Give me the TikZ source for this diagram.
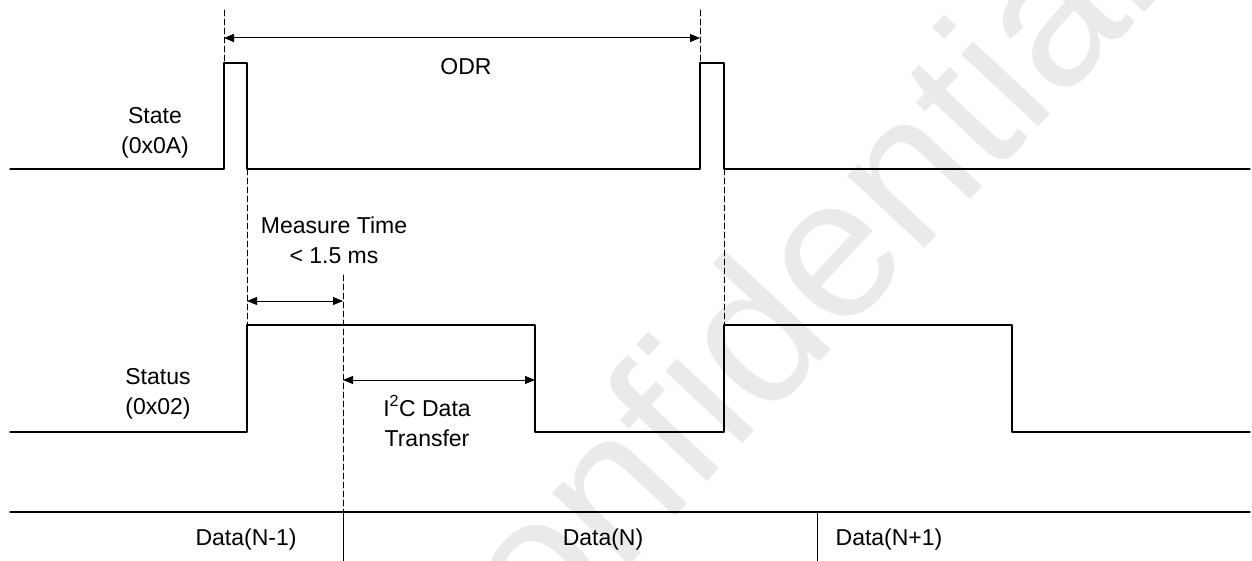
\documentclass[tikz,border=0pt]{standalone}
\usepackage{fontspec}
\setmainfont{Liberation Sans}
\usepackage{tikz}
\usetikzlibrary{arrows.meta}

\definecolor{wmgray}{RGB}{234,234,234}

\begin{document}
\begin{tikzpicture}[line cap=round,line join=round,>={Triangle[length=10pt,width=8pt]},x=1pt,y=-1pt, line width=1.2pt,
        lbl/.style={align=center, inner sep=0pt, font=\fontsize{23}{30}\selectfont},
        guide/.style={line width=0.7pt, dash pattern=on 6pt off 3pt},
        dim/.style={line width=1pt, <->}]
                        \useasboundingbox (0,0) rectangle (1252,561);

                        % watermark
                        \begin{scope}
                        \clip (0,0) rectangle (1252,561);
                        \node[rotate=47, anchor=base, inner sep=0pt, text=wmgray, font=\fontsize{200}{200}\selectfont] (wm) at (821,360) {confidential};
                        \end{scope}

                        % edges
                        \coordinate (stA) at (224,63);
                        \coordinate (stB) at (247,169);
                        \coordinate (stC) at (700,63);
                        \coordinate (stD) at (724,169);
                        \coordinate (suA) at (247,325);
                        \coordinate (suB) at (535,432);
                        \coordinate (suC) at (724,325);
                        \coordinate (suD) at (1012,432);
                        \coordinate (meas) at (343,275);

                        \node[lbl] (state) at (155,133) {State\\(0x0A)};
                        \node[lbl] (status) at (158,394) {Status\\(0x02)};

                        \draw (10,169) -| (stA) -| (stB) -| (stC) -| (stD) -- (1250,169);
                        \draw (10,432) -| (suA) -| (suB) -| (suC) -| (suD) -- (1250,432);

                        \draw[guide] (224,10) -- (stA);
                        \draw[guide] (700,10) -- (stC);
                        \draw[guide] (stB) -- (suA);
                        \draw[guide] (stD) -- (suC);
                        \draw[guide] (meas) -- (343,512);

                        \draw[dim] (224,38) -- (700,38);
                        \node[lbl] (odr) at (466,67) {ODR};

                        \draw[dim] (247,301) -- (343,301);
                        \node[lbl] (mt) at (334,240) {Measure Time\\< 1.5 ms};

                        \draw[dim] (343,380) -- (535,380);
                        \node[lbl] (i2c) at (427,421) {I\textsuperscript{2}C Data\\Transfer};

                        % data bus
                        \draw (10,512) -- (1250,512);
                        \draw[line width=0.8pt] (343,512) -- (343,561);
                        \draw[line width=0.8pt] (817,512) -- (817,561);
                        \node[lbl] (dprev) at (246,540) {Data(N-1)};
                        \node[lbl] (dcur) at (603,540) {Data(N)};
                        \node[lbl] (dnext) at (889,540) {Data(N+1)};
                    \end{tikzpicture}
\end{document}
